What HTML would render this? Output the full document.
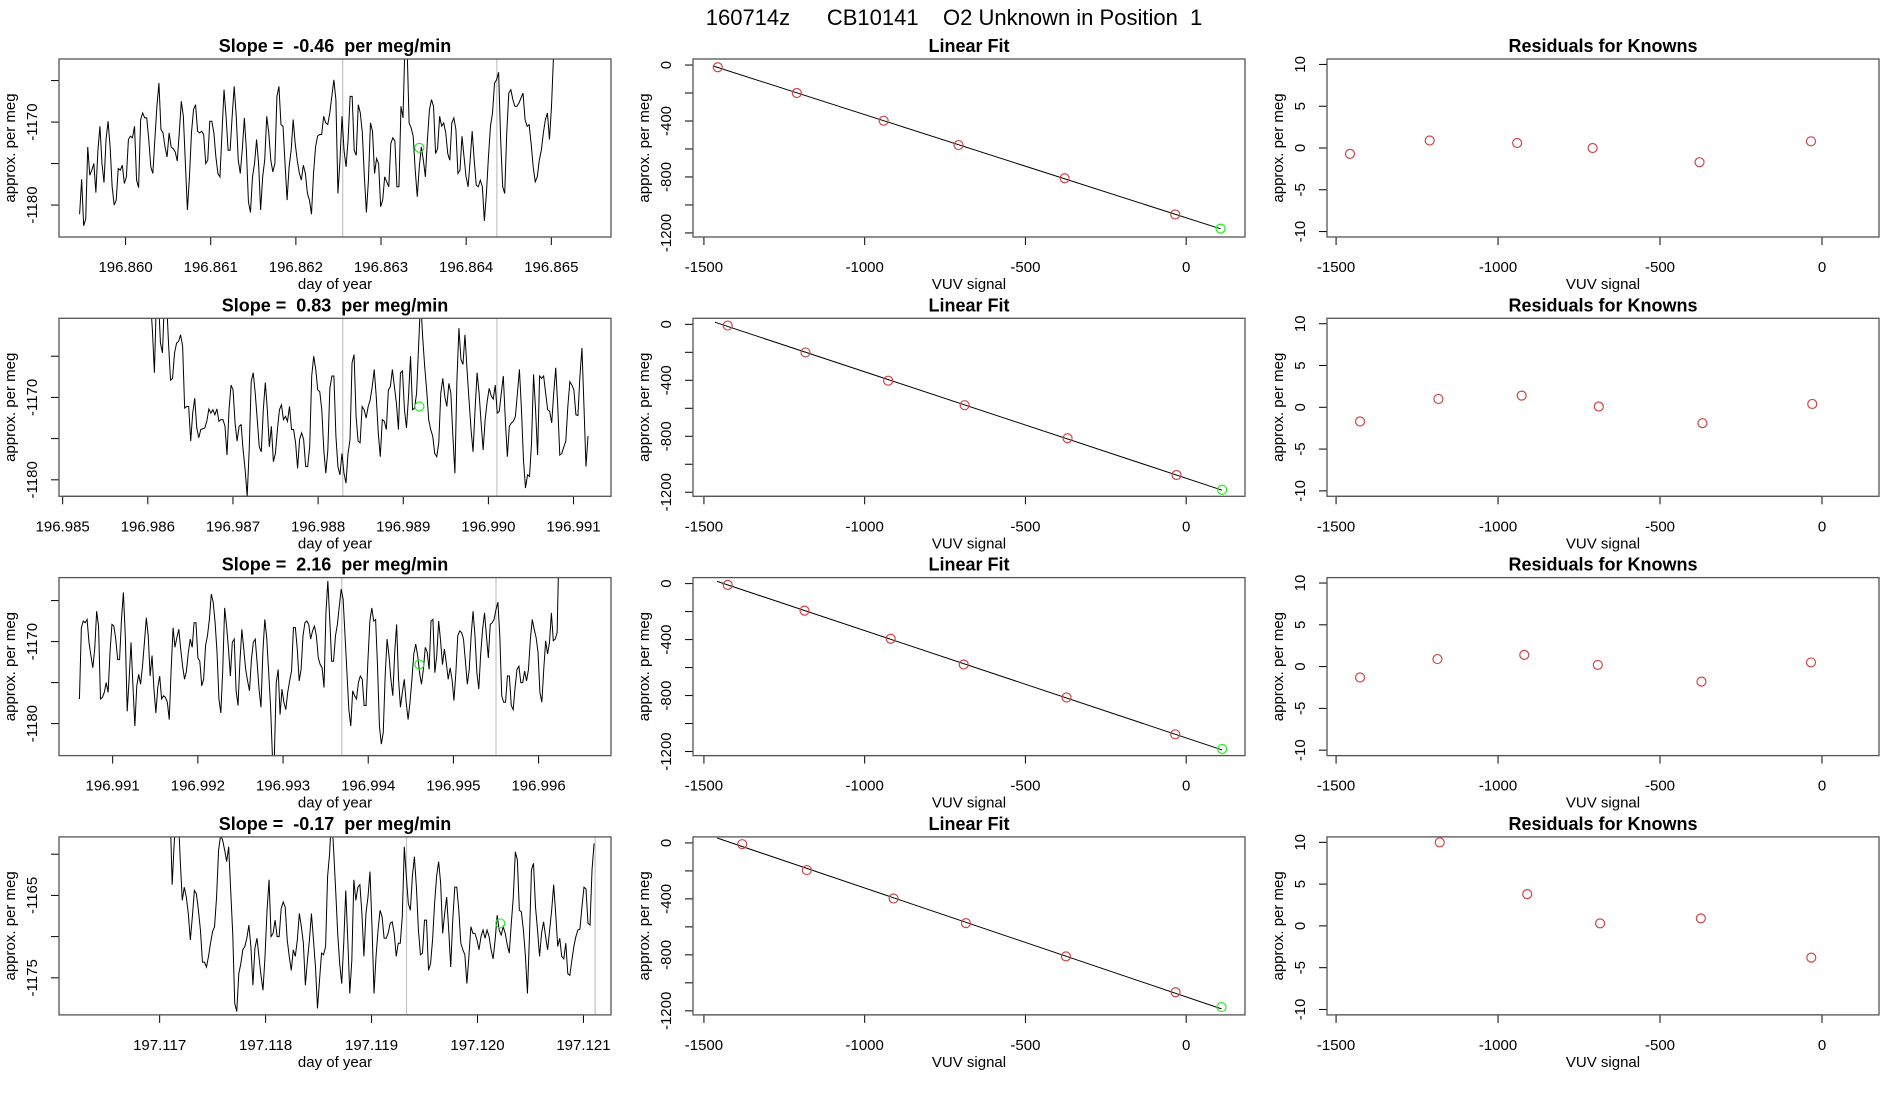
<!DOCTYPE html>
<html><head><meta charset="utf-8"><title>160714z CB10141 O2 Unknown</title>
<style>
html,body{margin:0;padding:0;background:#fff;}
svg{display:block;font-family:"Liberation Sans",Arial,sans-serif;}
svg text{white-space:pre;}
</style></head>
<body>
<svg id="fig" width="1900" height="1100" viewBox="0 0 1900 1100" xmlns="http://www.w3.org/2000/svg">
<rect x="0" y="0" width="1900" height="1100" fill="#fff"/>
<text x="954" y="25" text-anchor="middle" font-size="22" xml:space="preserve">160714z      CB10141    O2 Unknown in Position  1</text>
</svg>
<script>
// ---- time-series data (approx. per meg), uniformly sampled between start/end day ----
const tsTitles = ["Slope =  -0.46  per meg/min","Slope =  0.83  per meg/min","Slope =  2.16  per meg/min","Slope =  -0.17  per meg/min"];
const tsStart = [196.85946, 196.98603, 196.99061, 197.11708];
const tsEnd = [196.86505, 196.99117, 196.99624, 197.12110];
const tsXmin = [196.859218, 196.984957, 196.990370, 197.116050];
const tsXmax = [196.865701, 196.991440, 196.996850, 197.121260];
const tsYmin = [-1183.85, -1182.0, -1183.9, -1179.5];
const tsYmax = [-1162.4, -1160.4, -1162.2, -1157.9];
const tsXTicks = [
 ["196.860","196.861","196.862","196.863","196.864","196.865"],
 ["196.985","196.986","196.987","196.988","196.989","196.990","196.991"],
 ["196.991","196.992","196.993","196.994","196.995","196.996"],
 ["197.117","197.118","197.119","197.120","197.121"]];
const tsYTicks = [[-1165,-1170,-1175,-1180],[-1165,-1170,-1175,-1180],[-1165,-1170,-1175,-1180],[-1160,-1165,-1170,-1175]];
const tsYLabels = [[-1170,-1180],[-1170,-1180],[-1170,-1180],[-1165,-1175]];
const tsGrey = [[196.86255,196.86436],[196.98829,196.99010],[196.99369,196.99550],[197.11933,197.12111]];
const tsUnkDay = [196.86345, 196.98919, 196.99460, 197.120215];
const tsUnkVal = [-1173.1, -1171.1, -1172.8, -1168.4];

const ts1Vals = [-1181.1,-1176.9,-1182.5,-1181.7,-1173.0,-1176.4,-1175.8,-1175.0,-1178.5,-1173.4,-1170.5,-1175.0,-1177.3,-1172.1,-1169.9,-1173.0,-1177.8,-1180.0,-1179.4,-1175.6,-1175.8,-1175.2,-1177.4,-1176.6,-1172.1,-1171.7,-1171.9,-1170.5,-1177.0,-1177.9,-1169.7,-1168.9,-1169.5,-1169.5,-1172.1,-1175.4,-1176.2,-1172.1,-1168.1,-1165.3,-1170.9,-1171.3,-1173.0,-1174.2,-1171.3,-1173.0,-1173.2,-1173.6,-1174.7,-1171.3,-1167.5,-1169.3,-1175.0,-1180.6,-1176.6,-1171.3,-1168.5,-1167.9,-1171.1,-1171.3,-1171.1,-1171.5,-1175.0,-1174.6,-1169.9,-1169.9,-1171.3,-1174.2,-1176.2,-1176.6,-1171.3,-1166.1,-1169.3,-1173.4,-1173.4,-1169.3,-1165.7,-1169.3,-1174.6,-1176.2,-1173.2,-1169.5,-1173.4,-1179.6,-1180.9,-1176.6,-1175.0,-1172.1,-1175.0,-1180.6,-1176.6,-1174.6,-1169.3,-1171.3,-1174.6,-1176.0,-1175.0,-1166.9,-1165.7,-1170.3,-1170.5,-1175.0,-1179.4,-1175.4,-1173.4,-1169.7,-1172.6,-1174.6,-1176.1,-1177.0,-1175.2,-1176.2,-1178.6,-1179.4,-1181.1,-1176.2,-1173.0,-1171.7,-1171.5,-1171.5,-1169.3,-1170.1,-1170.3,-1168.9,-1166.9,-1164.9,-1167.3,-1178.6,-1174.6,-1169.3,-1173.4,-1175.4,-1172.1,-1166.9,-1166.9,-1173.4,-1174.0,-1167.9,-1168.9,-1171.3,-1176.6,-1180.9,-1177.0,-1170.1,-1171.1,-1176.2,-1174.4,-1175.0,-1180.2,-1179.4,-1176.6,-1177.2,-1177.8,-1172.6,-1171.9,-1172.3,-1177.8,-1177.8,-1168.1,-1169.5,-1160.0,-1161.0,-1170.1,-1170.7,-1171.7,-1175.8,-1179.0,-1175.4,-1173.0,-1174.6,-1176.6,-1172.1,-1168.5,-1167.3,-1168.1,-1173.8,-1173.2,-1169.3,-1170.5,-1170.1,-1171.3,-1173.8,-1174.6,-1170.1,-1169.5,-1170.9,-1176.2,-1175.8,-1171.7,-1174.2,-1176.6,-1177.8,-1174.6,-1171.1,-1174.6,-1177.6,-1177.8,-1177.0,-1177.8,-1181.9,-1178.6,-1174.2,-1170.5,-1168.9,-1165.3,-1164.9,-1164.0,-1172.1,-1177.8,-1178.6,-1171.3,-1166.5,-1166.1,-1167.3,-1168.1,-1168.1,-1167.7,-1167.1,-1166.5,-1169.7,-1170.5,-1170.3,-1172.6,-1175.4,-1177.2,-1176.6,-1174.6,-1173.4,-1171.3,-1169.7,-1168.9,-1172.1,-1168.1,-1162.0,-1155];

const ts2Vals = [-1158,-1161.8,-1167.0,-1158,-1158,-1163.4,-1164.6,-1158,-1158,-1163.4,-1167.9,-1167.7,-1164.6,-1163.4,-1163.2,-1162.4,-1163.8,-1171.3,-1171.1,-1171.1,-1175.3,-1171.9,-1170.1,-1173.7,-1174.9,-1173.9,-1173.8,-1173.7,-1172.9,-1171.4,-1171.9,-1171.5,-1172.1,-1171.4,-1172.9,-1172.7,-1172.7,-1173.5,-1177.0,-1171.5,-1168.5,-1169.1,-1173.1,-1175.3,-1173.5,-1173.3,-1176.4,-1178.8,-1182,-1176.4,-1168.1,-1167.0,-1169.5,-1172.7,-1176.0,-1176.6,-1171.5,-1168.2,-1171.5,-1176.0,-1173.5,-1177.8,-1176.8,-1173.9,-1171.5,-1170.9,-1172.7,-1172.3,-1172.9,-1171.1,-1173.9,-1173.9,-1175.5,-1178.6,-1175.1,-1174.3,-1175.1,-1178.4,-1178.4,-1176.0,-1167.4,-1165.0,-1166.6,-1169.1,-1169.3,-1171.5,-1176.4,-1179.2,-1176.4,-1168.9,-1167.4,-1167.4,-1174.7,-1178.4,-1179.4,-1176.8,-1179.2,-1180.4,-1176.8,-1175.1,-1165.8,-1164.8,-1172.3,-1175.3,-1175.5,-1171.1,-1171.5,-1172.5,-1171.1,-1170.3,-1168.7,-1166.6,-1169.9,-1174.3,-1177.2,-1172.7,-1172.9,-1173.9,-1169.1,-1168.7,-1166.6,-1168.7,-1170.7,-1173.9,-1167.0,-1166.8,-1171.5,-1173.7,-1169.9,-1165.0,-1171.5,-1171.3,-1169.5,-1163.8,-1158,-1162.6,-1166.2,-1169.1,-1172.7,-1173.9,-1174.7,-1176.8,-1177.2,-1175.5,-1169.5,-1167.7,-1169.9,-1171.1,-1168.3,-1169.5,-1174.7,-1179.2,-1167.9,-1161.6,-1165.4,-1166.0,-1162.4,-1166.6,-1170.3,-1173.9,-1176.6,-1171.5,-1167.0,-1169.5,-1173.1,-1176.4,-1172.7,-1170.5,-1168.9,-1169.8,-1170.2,-1168.5,-1171.9,-1171.7,-1169.5,-1167.4,-1172.7,-1177.2,-1173.5,-1173.1,-1172.9,-1172.3,-1169.5,-1166.6,-1171.5,-1177.6,-1181.0,-1179.4,-1179.6,-1175.5,-1167.2,-1171.5,-1177.0,-1167.4,-1167.7,-1167.4,-1169.5,-1171.5,-1171.7,-1173.1,-1169.5,-1166.4,-1171.1,-1177.0,-1176.8,-1176.0,-1175.3,-1171.1,-1168.1,-1168.5,-1169.1,-1172.1,-1172.2,-1167.4,-1164.0,-1171.1,-1178.4,-1174.7];

const ts3Vals = [-1177.0,-1168.3,-1167.5,-1167.7,-1167.3,-1170.1,-1171.7,-1173.2,-1170.9,-1166.3,-1168.1,-1177.0,-1176.8,-1176.2,-1175.0,-1176.2,-1171.3,-1167.9,-1168.1,-1169.7,-1172.2,-1172.2,-1167.3,-1164.0,-1169.3,-1178.5,-1174.6,-1170.1,-1175.4,-1180.3,-1175.4,-1174.0,-1175.2,-1173.0,-1170.1,-1167.1,-1169.3,-1174.2,-1171.7,-1175.8,-1178.7,-1175.6,-1174.2,-1177.0,-1176.6,-1176.8,-1177.4,-1179.5,-1173.4,-1168.3,-1170.7,-1169.5,-1168.5,-1170.9,-1173.0,-1174.6,-1173.6,-1171.3,-1169.7,-1170.7,-1167.7,-1167.7,-1172.0,-1172.4,-1175.4,-1174.6,-1170.5,-1169.3,-1167.3,-1164.2,-1165.2,-1167.7,-1171.3,-1177.0,-1178.7,-1173.4,-1165.9,-1168.1,-1170.9,-1174.2,-1170.1,-1169.7,-1176.0,-1177.8,-1172.4,-1168.5,-1170.9,-1173.4,-1174.8,-1176.0,-1172.2,-1170.1,-1169.7,-1172.6,-1175.8,-1178.0,-1171.3,-1167.3,-1169.5,-1173.6,-1177.8,-1184,-1184,-1175.0,-1173.4,-1178.9,-1175.8,-1177.4,-1178.3,-1176.2,-1174.8,-1173.6,-1168.3,-1168.3,-1170.9,-1174.8,-1173.4,-1169.3,-1167.7,-1167.5,-1167.9,-1169.7,-1168.7,-1168.1,-1169.3,-1172.0,-1172.8,-1173.2,-1175.6,-1166.5,-1162.6,-1167.3,-1172.4,-1172.4,-1169.3,-1167.9,-1165.7,-1163.6,-1164.8,-1169.3,-1173.8,-1178.3,-1180.3,-1176.0,-1176.6,-1177.0,-1175.0,-1174.2,-1174.6,-1177.8,-1177.8,-1172.2,-1167.5,-1165.9,-1167.5,-1167.3,-1173.0,-1180.3,-1182.5,-1181.1,-1174.2,-1169.7,-1171.7,-1174.6,-1176.6,-1171.3,-1167.9,-1174.6,-1178.0,-1176.2,-1174.6,-1177.4,-1179.5,-1177.4,-1174.6,-1171.5,-1170.3,-1171.7,-1173.8,-1175.2,-1173.4,-1170.7,-1171.3,-1173.4,-1167.5,-1167.3,-1173.8,-1171.7,-1167.5,-1169.9,-1172.8,-1170.9,-1172.6,-1174.6,-1173.2,-1174.6,-1177.2,-1173.8,-1169.3,-1168.7,-1168.9,-1169.7,-1172.4,-1175.2,-1173.4,-1169.3,-1166.3,-1169.3,-1173.8,-1175.8,-1171.5,-1168.5,-1166.5,-1169.3,-1172.0,-1167.9,-1167.7,-1167.3,-1166.1,-1165.2,-1169.3,-1176.6,-1177.4,-1177.4,-1174.2,-1174.2,-1177.8,-1178.3,-1175.6,-1173.4,-1173.0,-1175.0,-1175.0,-1173.6,-1174.8,-1173.4,-1169.7,-1167.3,-1168.5,-1169.5,-1171.3,-1176.2,-1177.4,-1173.4,-1169.9,-1171.5,-1170.1,-1166.5,-1169.9,-1169.7,-1168.9,-1158];

const ts4Vals = [-1155,-1155,-1163.7,-1158.7,-1155,-1155,-1160.7,-1165.6,-1164.0,-1165.2,-1167.2,-1170.4,-1167.6,-1164.4,-1164.8,-1166.8,-1169.2,-1173.1,-1173.1,-1173.7,-1172.4,-1170.8,-1169.4,-1168.8,-1165.2,-1159.5,-1157.7,-1158.3,-1159.5,-1160.9,-1159.1,-1164.4,-1169.6,-1178.1,-1179.1,-1174.5,-1173.3,-1171.6,-1171.2,-1170.2,-1168.6,-1171.2,-1175.9,-1171.4,-1170.2,-1172.4,-1174.7,-1176.5,-1172.4,-1166.8,-1163.1,-1170.0,-1169.6,-1168.0,-1170.0,-1170.0,-1166.6,-1165.8,-1166.4,-1170.4,-1172.4,-1174.1,-1171.6,-1172.4,-1170.4,-1167.2,-1168.8,-1170.8,-1175.9,-1172.9,-1170.4,-1167.2,-1170.4,-1173.7,-1178.7,-1175.3,-1172.0,-1172.2,-1171.2,-1162.7,-1159.9,-1155,-1159.5,-1164.4,-1169.6,-1173.3,-1175.7,-1170.8,-1164.4,-1170.4,-1176.9,-1172.9,-1163.1,-1165.6,-1164.0,-1163.7,-1167.2,-1172.4,-1167.2,-1165.2,-1162.1,-1168.8,-1176.9,-1172.4,-1169.2,-1166.8,-1167.6,-1170.2,-1170.2,-1169.6,-1168.4,-1168.2,-1169.6,-1172.4,-1170.8,-1170.8,-1167.6,-1159.1,-1162.7,-1166.0,-1166.8,-1162.7,-1160.3,-1164.0,-1169.2,-1172.2,-1172.0,-1168.0,-1168.0,-1174.1,-1173.3,-1170.4,-1166.0,-1162.7,-1160.9,-1163.5,-1169.6,-1167.2,-1165.2,-1169.2,-1173.7,-1168.0,-1164.0,-1164.0,-1166.8,-1170.8,-1171.6,-1172.2,-1175.7,-1172.4,-1168.8,-1169.6,-1169.6,-1170.4,-1171.6,-1170.0,-1169.2,-1170.2,-1169.2,-1170.0,-1171.6,-1172.7,-1170.4,-1167.4,-1169.2,-1169.8,-1168.8,-1169.6,-1171.0,-1172.0,-1168.4,-1165.2,-1159.7,-1160.7,-1166.8,-1167.0,-1169.2,-1172.4,-1176.9,-1170.0,-1161.9,-1161.1,-1166.4,-1169.2,-1172.4,-1169.6,-1168.2,-1170.0,-1171.6,-1169.2,-1166.8,-1163.7,-1167.2,-1171.2,-1170.2,-1172.4,-1172.7,-1170.8,-1174.5,-1174.7,-1172.9,-1171.2,-1170.0,-1169.2,-1169.1,-1166.4,-1164.0,-1164.2,-1168.4,-1168.6,-1161.9,-1158.7];
const tsVals = [ts1Vals, ts2Vals, ts3Vals, ts4Vals];

// ---- linear fit data (VUV signal vs approx. per meg) ----
const fit1X = [-1457,-1211,-941,-708,-378,-34];
const fit1Y = [-16,-200,-398,-572,-809,-1068];
const fit2X = [-1426,-1184,-927,-689,-369,-30];
const fit2Y = [-9,-201,-403,-578,-814,-1077];
const fit3X = [-1426,-1187,-919,-692,-372,-34];
const fit3Y = [-9,-193,-394,-578,-814,-1077];
const fit4X = [-1381,-1180,-910,-685,-374,-33];
const fit4Y = [-9,-194,-397,-573,-811,-1067];
const unkX = [107, 112, 112, 110];
const unkY = [-1169, -1182, -1182, -1173];
const fitLineStart = [-1470, -1466, -1459, -1459];
// ---- residuals for knowns ----
const res1 = [-0.7,0.9,0.6,0.0,-1.7,0.8];
const res2 = [-1.7,1.0,1.4,0.1,-1.9,0.4];
const res3 = [-1.3,0.9,1.4,0.2,-1.8,0.5];
const res4 = [15,10.0,3.8,0.3,0.9,-3.8];
const fitXs = [fit1X, fit2X, fit3X, fit4X];
const fitYs = [fit1Y, fit2Y, fit3Y, fit4Y];
const resVals = [res1, res2, res3, res4];
const vuvTicks = [-1500,-1000,-500,0];
const fitYTicks = [0,-200,-400,-600,-800,-1000,-1200];
const fitYLabels = [0,-400,-800,-1200];
const resYTicks = [10,5,0,-5,-10];

const NS = "http://www.w3.org/2000/svg";
const svg = document.getElementById("fig");
function mk(tag, attrs, parent, txt){
  const e = document.createElementNS(NS, tag);
  for (const k in attrs) e.setAttribute(k, attrs[k]);
  if (txt !== undefined) e.textContent = txt;
  (parent || svg).appendChild(e);
  return e;
}
function scale(d0,d1,r0,r1){ return v => r0 + (v-d0)*(r1-r0)/(d1-d0); }

const colLeft = [59, 693, 1327];
const BW = 552, BH = 178;
function rowTop(r){ return 59 + r*259.3; }

function frame(g, L, T, title, titleName, xlab, ylab){
  const t = mk("text",{x:L+BW/2,y:T-7,"text-anchor":"middle","font-size":18,"font-weight":"bold",style:"white-space:pre"},g,title);
  
  
  const xl = mk("text",{x:L+BW/2,y:T+BH+52,"text-anchor":"middle","font-size":15},g,xlab);
  
  
  const yl = mk("text",{x:0,y:0,"text-anchor":"middle","font-size":15,transform:`translate(${L-44},${T+BH/2}) rotate(-90)`},g,ylab);
  
  
}
function xAxis(g, L, T, xs, vals, labels){
  const y0 = T+BH;
  const px = vals.map(xs);
  mk("line",{x1:px[0],x2:px[px.length-1],y1:y0,y2:y0,stroke:"#000","stroke-width":1},g);
  vals.forEach((v,i)=>{
    const x = xs(v);
    mk("line",{x1:x,x2:x,y1:y0,y2:y0+8,stroke:"#000","stroke-width":1},g);
    const tl = mk("text",{x:x,y:y0+35,"text-anchor":"middle","font-size":15},g,labels[i]);
    
    
  });
}
function yAxis(g, L, T, ys, ticks, labels){
  const py = ticks.map(ys);
  mk("line",{x1:L,x2:L,y1:Math.min(...py),y2:Math.max(...py),stroke:"#000","stroke-width":1},g);
  ticks.forEach(v=>{
    const y = ys(v);
    mk("line",{x1:L-8,x2:L,y1:y,y2:y,stroke:"#000","stroke-width":1},g);
  });
  labels.forEach(v=>{
    const tl = mk("text",{x:0,y:0,"text-anchor":"middle","font-size":15,transform:`translate(${L-22},${ys(v)}) rotate(-90)`},g,String(v));
    
    
  });
}
function box(g,L,T){
  const b = mk("rect",{x:L,y:T,width:BW,height:BH,fill:"none",stroke:"#555","stroke-width":1.3},g);
  
  
}
function clip(id,L,T){
  const cp = mk("clipPath",{id:id});
  mk("rect",{x:L,y:T,width:BW,height:BH},cp);
}

for (let r=0; r<4; r++){
  const T = rowTop(r);
  {
    const L = colLeft[0];
    const g = mk("g",{});
    
    
    const xs = scale(tsXmin[r], tsXmax[r], L, L+BW);
    const ys = scale(tsYmin[r], tsYmax[r], T+BH, T);
    clip("c1_"+r, L, T);
    const inner = mk("g",{"clip-path":`url(#c1_${r})`},g);
    tsGrey[r].forEach(d=>{
      const gl = mk("line",{x1:xs(d),x2:xs(d),y1:T,y2:T+BH,stroke:"#c4c4c4","stroke-width":1.2},inner);
      
      
    });
    const vals = tsVals[r];
    const n = vals.length;
    const pts = vals.map((v,i)=>{
      const d = tsStart[r] + (tsEnd[r]-tsStart[r])*i/(n-1);
      return xs(d).toFixed(2)+","+ys(v).toFixed(2);
    }).join(" ");
    const pl = mk("polyline",{points:pts,fill:"none",stroke:"#000","stroke-width":1},inner);
    
    
    const uc = mk("circle",{cx:xs(tsUnkDay[r]),cy:ys(tsUnkVal[r]),r:4.5,fill:"none",stroke:"#22ee22","stroke-width":1.2},inner);
    
    
    const xv = tsXTicks[r].map(Number);
    xAxis(g, L, T, xs, xv, tsXTicks[r]);
    yAxis(g, L, T, ys, tsYTicks[r], tsYLabels[r]);
    box(g, L, T);
    frame(g, L, T, tsTitles[r], 'slope-title', 'day of year', 'approx. per meg');
  }
  {
    const L = colLeft[1];
    const g = mk("g",{});
    
    
    const xs = scale(-1534, 183, L, L+BW);
    const ys = scale(-1229, 43, T+BH, T);
    clip("c2_"+r, L, T);
    const inner = mk("g",{"clip-path":`url(#c2_${r})`},g);
    const X = fitXs[r], Y = fitYs[r];
    const n = X.length;
    const mx = X.reduce((a,b)=>a+b,0)/n, my = Y.reduce((a,b)=>a+b,0)/n;
    let sxy=0, sxx=0;
    for (let i=0;i<n;i++){ sxy += (X[i]-mx)*(Y[i]-my); sxx += (X[i]-mx)**2; }
    const b = sxy/sxx, a = my - b*mx;
    const x0 = fitLineStart[r], x1 = unkX[r];
    const fl = mk("line",{x1:xs(x0),y1:ys(a+b*x0),x2:xs(x1),y2:ys(a+b*x1),stroke:"#000","stroke-width":1},inner);
    
    
    X.forEach((x,i)=>{
      const c = mk("circle",{cx:xs(x),cy:ys(Y[i]),r:4.5,fill:"none",stroke:"#d04545","stroke-width":1.2},inner);
      
      
    });
    const uc = mk("circle",{cx:xs(unkX[r]),cy:ys(unkY[r]),r:4.5,fill:"none",stroke:"#22ee22","stroke-width":1.2},inner);
    
    
    xAxis(g, L, T, xs, vuvTicks, vuvTicks.map(String));
    yAxis(g, L, T, ys, fitYTicks, fitYLabels);
    box(g, L, T);
    frame(g, L, T, 'Linear Fit', 'linear-fit-title', 'VUV signal', 'approx. per meg');
  }
  {
    const L = colLeft[2];
    const g = mk("g",{});
    
    
    const xs = scale(-1528, 176, L, L+BW);
    const ys = scale(-10.65, 10.65, T+BH, T);
    clip("c3_"+r, L, T);
    const inner = mk("g",{"clip-path":`url(#c3_${r})`},g);
    const X = fitXs[r], R = resVals[r];
    X.forEach((x,i)=>{
      const c = mk("circle",{cx:xs(x),cy:ys(R[i]),r:4.5,fill:"none",stroke:"#d04545","stroke-width":1.2},inner);
      
      
    });
    xAxis(g, L, T, xs, vuvTicks, vuvTicks.map(String));
    yAxis(g, L, T, ys, resYTicks, resYTicks);
    box(g, L, T);
    frame(g, L, T, 'Residuals for Knowns', 'residuals-title', 'VUV signal', 'approx. per meg');
  }
}
</script>
</body></html>
